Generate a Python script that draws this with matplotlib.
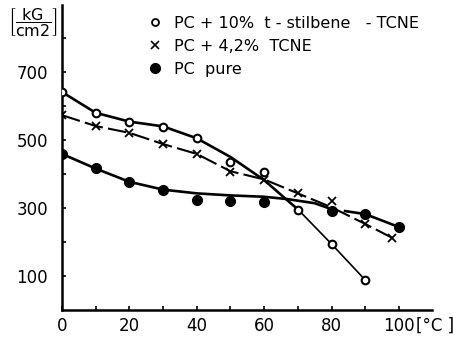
import matplotlib
matplotlib.use("Agg")
import matplotlib.pyplot as plt
from matplotlib.lines import Line2D

plt.rcParams['font.family'] = 'DejaVu Sans'
plt.rcParams['mathtext.fontset'] = 'dejavusans'

# measured points
temp = [0, 10, 20, 30, 40, 50, 60, 70, 80, 90]
stilbene = [641, 579, 553, 538, 505, 434, 405, 295, 194, 88]

temp_tcne = [0, 10, 20, 30, 40, 50, 60, 70, 80, 90, 98]
tcne = [573, 541, 521, 488, 459, 405, 383, 343, 321, 253, 212]

temp_pure = [0, 10, 20, 30, 40, 50, 60, 80, 90, 100]
pure = [459, 418, 376, 352, 324, 322, 319, 291, 282, 244]

# hand drawn curves
stil_curve_x = [0, 10, 20, 30, 40, 50, 60, 66, 70]
stil_curve_y = [641, 580, 554, 540, 505, 450, 382, 330, 296]
stil_tail_x = [70, 80, 90]
stil_tail_y = [296, 194, 88]

tcne_curve_x = [0, 10, 20, 30, 40, 50, 60, 70, 80, 90, 98]
tcne_curve_y = [573, 541, 521, 488, 459, 408, 384, 343, 302, 253, 212]

pure_curve_x = [0, 10, 20, 30, 40, 50, 60, 67, 75, 79]
pure_curve_y = [459, 416, 377, 354, 343, 337, 333, 326, 314, 300]
pure_tail_x = [84, 90, 100]
pure_tail_y = [291, 282, 244]

labels = ['PC + 10%  t - stilbene   - TCNE', 'PC + 4,2%  TCNE', 'PC  pure']

fig = plt.figure(figsize=(4.53, 3.37), dpi=100)
ax = fig.add_axes([62/453, 27/337, 370/453, 305/337])

# curves
ax.plot(stil_curve_x, stil_curve_y, color='black', lw=1.9, solid_capstyle='round')
ax.plot(stil_tail_x, stil_tail_y, color='black', lw=1.2)
ax.plot(tcne_curve_x, tcne_curve_y, color='black', lw=1.5, linestyle=(0, (9, 2.5)))
ax.plot(pure_curve_x, pure_curve_y, color='black', lw=1.9)
ax.plot(pure_tail_x, pure_tail_y, color='black', lw=1.9)

# points
ax.plot(temp, stilbene, 'o', ms=5.5, mfc='white', mec='black', mew=1.5, zorder=5)
ax.plot(temp_tcne, tcne, 'x', ms=6, color='black', mew=1.3, zorder=5)
ax.plot(temp_pure, pure, 'o', ms=7, color='black', zorder=5)

ax.set_xlim(0, 109.8)
ax.set_ylim(0, 897)
ax.spines['top'].set_visible(False)
ax.spines['right'].set_visible(False)
ax.spines['left'].set_linewidth(1.8)
ax.spines['bottom'].set_linewidth(1.8)

ax.set_xticks(range(0, 110, 10))
ax.set_xticklabels(['0', '', '20', '', '40', '', '60', '', '80', '', '100'])
ax.set_yticks(range(100, 900, 100))
ax.set_yticklabels(['100', '', '300', '', '500', '', '700', ''])
ax.tick_params(direction='in', length=3, width=1.2, labelsize=12, pad=5)
ax.tick_params(axis='y', pad=10)

fig.text(416/453, 1 - 326/337, '[°C ]', fontsize=12, ha='left', va='center')
fig.text(33/453, 1 - 23/337, r'$\left[\dfrac{\mathrm{kG}}{\mathrm{cm2}}\right]$', fontsize=11.5,
         ha='center', va='center')

handles = [
    Line2D([], [], ls='none', marker='o', ms=5, mfc='white', mec='black', mew=1.3),
    Line2D([], [], ls='none', marker='x', ms=5.5, color='black', mew=1.2),
    Line2D([], [], ls='none', marker='o', ms=7, color='black'),
]
fig.legend(handles, labels, loc='upper left', bbox_to_anchor=(147/453, 1 - 16/337),
           frameon=False, fontsize=11.5, handlelength=1.0, handletextpad=0.7,
           labelspacing=0.5, borderpad=0, borderaxespad=0)

fig.savefig('out.png', dpi=100)
